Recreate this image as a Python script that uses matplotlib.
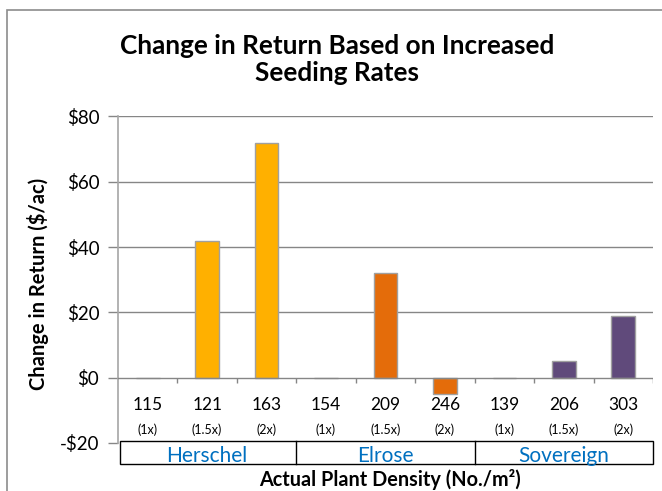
import matplotlib
matplotlib.use("Agg")
import matplotlib.pyplot as plt
from matplotlib.patches import Rectangle
from matplotlib.transforms import blended_transform_factory

# ---- data ----
densities = ["115", "121", "163", "154", "209", "246", "139", "206", "303"]
rates = ["(1x)", "(1.5x)", "(2x)", "(1x)", "(1.5x)", "(2x)", "(1x)", "(1.5x)", "(2x)"]
varieties = ["Herschel", "Elrose", "Sovereign"]
returns = [0, 42, 72, 0, 32, -5, 0, 5, 19]
bar_colors = ["#FFB000"] * 3 + ["#E46C0A"] * 3 + ["#604A7B"] * 3
yticks = [-20, 0, 20, 40, 60, 80]
ytick_labels = ["-\\$20", "\\$0", "\\$20", "\\$40", "\\$60", "\\$80"]
gridvals = [20, 40, 60, 80]

plt.rcParams['font.family'] = ['Lato', 'DejaVu Sans']

W, H = 662, 491
fig = plt.figure(figsize=(W / 100, H / 100), dpi=100)


def fx(px):
    return px / W


def fy(py):
    return 1 - py / H


# outer chart border
fig.patches.append(Rectangle((fx(7), fy(700)), 1.2, fy(10) - fy(700), transform=fig.transFigure,
                             fill=False, edgecolor="#8C8C8C", linewidth=1.2))

ax_left, ax_right, ax_top, ax_bottom = 118, 653, 116.5, 443
ax = fig.add_axes([fx(ax_left), fy(ax_bottom), fx(ax_right) - fx(ax_left), fy(ax_top) - fy(ax_bottom)])

n = len(returns)
xpos = [i + 0.5 for i in range(n)]
ax.bar(xpos, returns, width=0.4, color=bar_colors, edgecolor="#A0A0A0", linewidth=1, zorder=3)

ax.set_xlim(0, n)
ax.set_ylim(-20, 80)
ax.hlines(gridvals, 0, n, color="#868686", linewidth=1, zorder=1)
ax.axhline(0, color="#868686", linewidth=1, zorder=4)
ax.vlines(range(1, n + 1), -1.6, 0, color="#868686", linewidth=1, zorder=4)

ax.set_yticks(yticks)
ax.set_yticklabels(ytick_labels)
ax.set_xticks([])
ax.tick_params(axis='y', direction='out', length=7.5, color="#868686", width=1, labelsize=13.5, pad=6)
for s in ["top", "right", "bottom"]:
    ax.spines[s].set_visible(False)
ax.spines["left"].set_color("#A6A6A6")
ax.spines["left"].set_linewidth(1.2)

# x category labels (x in data, y in figure pixels)
trans = blended_transform_factory(ax.transData, fig.transFigure)
for i in range(n):
    ax.text(xpos[i], fy(405), densities[i], transform=trans, ha="center", va="center", fontsize=12.5)
    ax.text(xpos[i], fy(430), rates[i], transform=trans, ha="center", va="center", fontsize=9)

# variety box
box_top, box_bot = 441, 464
ax.add_patch(Rectangle((0.04, fy(box_bot)), n - 0.04, fy(box_top) - fy(box_bot), transform=trans,
                       fill=False, edgecolor="black", linewidth=1, clip_on=False))
for k in range(1, 3):
    ax.plot([3 * k, 3 * k], [fy(box_top), fy(box_bot)], transform=trans, color="black", lw=1, clip_on=False)
for k, v in enumerate(varieties):
    ax.text(3 * k + 1.5, fy(456), v, transform=trans, ha="center", va="center", fontsize=15,
            color="#0070C0")

fig.text(fx(390), fy(479), "Actual Plant Density (No./m²)", ha="center", va="center",
         fontsize=14.3, fontweight="bold")
fig.text(fx(38), fy(284), "Change in Return (\\$/ac)", ha="center", va="center",
         fontsize=14.5, fontweight="bold", rotation=90)
fig.text(fx(337), fy(60), "Change in Return Based on Increased\nSeeding Rates", ha="center",
         va="center", fontsize=18.8, fontweight="bold", linespacing=1.15)

fig.savefig("out.png", dpi=100)
